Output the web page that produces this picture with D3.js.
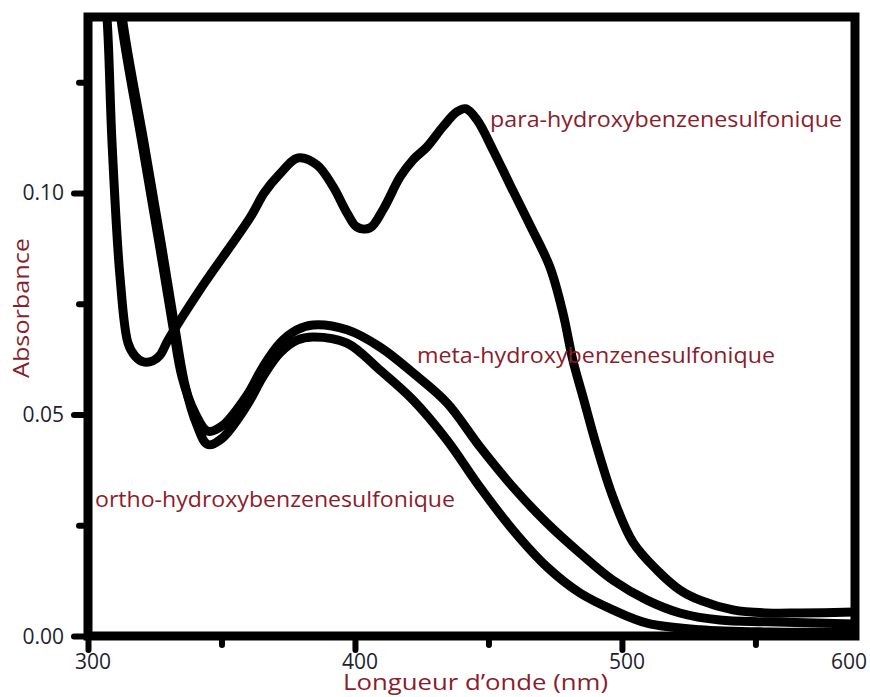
<!DOCTYPE html>
<html>
<head>
<meta charset="utf-8">
<script src="https://cdn.jsdelivr.net/npm/d3@7"></script>
<style>
  body { margin: 0; background: #fff; }
</style>
</head>
<body>
<div id="chart"></div>
<script>
// === Axis ticks and labels ===
const wavelengthTicks = [300, 350, 400, 450, 500, 550];
const wavelengthLabels = [300, 400, 500, 600];
const absorbanceTicks = [0, 0.025, 0.05, 0.075, 0.10, 0.125];
const absorbanceLabels = [0, 0.05, 0.10];

// === Spectra (wavelength in nm, absorbance) ===
const paraNm = [305, 307.1, 309, 312, 315, 317.6, 320.6, 324.3, 327, 330, 341.9, 360.7, 366, 371.6,
  378.7, 385.8, 391.8, 397, 400.7, 405.6, 410.5, 416.9, 421.8, 427, 432.9, 438.2, 441.5, 445.7, 451.7,
  458.1, 465.5, 473, 477.9, 481.6, 485.4, 490.6, 496.6, 504.1, 513.1, 521.7, 529.2, 541.6, 554.3,
  566.7, 587];
const paraAbs = [0.152, 0.1397, 0.1113, 0.081, 0.0661, 0.0632, 0.0619, 0.0621, 0.0634, 0.0668, 0.0781,
  0.0944, 0.1, 0.1041, 0.1079, 0.1063, 0.1014, 0.0955, 0.0923, 0.0921, 0.0962, 0.1036, 0.1075,
  0.1104, 0.1149, 0.1183, 0.119, 0.1165, 0.1097, 0.1018, 0.0928, 0.0833, 0.0729, 0.0623, 0.054,
  0.0427, 0.0314, 0.0212, 0.0149, 0.0104, 0.0081, 0.0059, 0.0052, 0.0052, 0.0054];

const metaNm = [310, 312.4, 320.2, 326.6, 331.8, 335.2, 340.1, 344.9, 350.2, 359.6, 365.5, 371.9,
  378.3, 384.3, 397, 409.4, 421.7, 434.5, 446.8, 459.2, 471.9, 484.3, 496.6, 509.4, 521.7, 536.7,
  554.3, 587];
const metaAbs = [0.155, 0.139, 0.1113, 0.0887, 0.0698, 0.0585, 0.0503, 0.0462, 0.0474, 0.0544, 0.0607,
  0.0661, 0.0691, 0.0702, 0.0691, 0.0652, 0.0594, 0.0526, 0.0427, 0.0336, 0.0255, 0.0187, 0.0126,
  0.0081, 0.0052, 0.0036, 0.0032, 0.0027];

const orthoNm = [310.5, 313, 321, 327.4, 332.5, 336.3, 340.8, 344.9, 350.2, 359.6, 365.5, 371.9,
  378.3, 384.3, 397, 409.4, 421.7, 434.5, 446.8, 459.2, 471.9, 484.3, 496.6, 509.4, 529.2, 555.4, 587];
const orthoAbs = [0.155, 0.139, 0.1113, 0.0887, 0.0698, 0.0567, 0.0476, 0.0432, 0.0446, 0.0521, 0.0585,
  0.0639, 0.0668, 0.0675, 0.0661, 0.06, 0.0533, 0.0442, 0.0336, 0.0239, 0.0156, 0.0097, 0.0059,
  0.0029, 0.0014, 0.0009, 0.0009];

const seriesNames = ["para-hydroxybenzenesulfonique", "meta-hydroxybenzenesulfonique", "ortho-hydroxybenzenesulfonique"];

const LABEL_RED = "#8b1c2b";
const TICK_INK = "#1e1e2e";
const INK = "#000";

function drawSpectra() {
    const svgWidth = 870, svgHeight = 697;
    const plot = { left: 88, top: 17, right: 855, bottom: 636 };

    const svg = d3.select("#chart")
        .append("svg")
        .attr("width", svgWidth)
        .attr("height", svgHeight)
        .style("font-family", "'Open Sans', 'DejaVu Sans', sans-serif");

    // Scales: frame right edge sits a bit before 600 nm
    const x = d3.scaleLinear().domain([300, 587.3]).range([plot.left, plot.right]);
    const y = d3.scaleLinear().domain([0, 0.1397]).range([plot.bottom, plot.top]);

    // Clip curves to the frame
    svg.append("clipPath").attr("id", "plot-clip")
        .append("rect")
        .attr("x", plot.left).attr("y", plot.top)
        .attr("width", plot.right - plot.left)
        .attr("height", plot.bottom - plot.top);

    const line = d3.line()
        .x(d => x(d[0]))
        .y(d => y(d[1]))
        .curve(d3.curveCatmullRom.alpha(0.5));

    const spectra = [
        d3.zip(paraNm, paraAbs),
        d3.zip(metaNm, metaAbs),
        d3.zip(orthoNm, orthoAbs)
    ];

    svg.append("g")
        .attr("clip-path", "url(#plot-clip)")
        .selectAll("path")
        .data(spectra)
        .join("path")
        .attr("fill", "none")
        .attr("stroke", INK)
        .attr("stroke-width", 9)
        .attr("stroke-linejoin", "round")
        .attr("d", line);

    // Tick marks (round dashes sticking out of the frame)
    const majorX = d => wavelengthLabels.includes(d);
    svg.append("g")
        .attr("transform", `translate(0,${plot.bottom})`)
        .call(d3.axisBottom(x).tickValues(wavelengthTicks).tickFormat("").tickSizeOuter(0))
        .call(g => g.select(".domain").remove())
        .call(g => g.selectAll(".tick line")
            .attr("y2", d => majorX(d) ? 14 : 9)
            .attr("stroke", INK)
            .attr("stroke-width", 6)
            .attr("stroke-linecap", "round"));

    const majorY = d => absorbanceLabels.some(v => Math.abs(v - d) < 1e-9);
    svg.append("g")
        .attr("transform", `translate(${plot.left},0)`)
        .call(d3.axisLeft(y).tickValues(absorbanceTicks).tickFormat("").tickSizeOuter(0))
        .call(g => g.select(".domain").remove())
        .call(g => g.selectAll(".tick line")
            .attr("x2", d => majorY(d) ? -14 : -9)
            .attr("stroke", INK)
            .attr("stroke-width", 6)
            .attr("stroke-linecap", "round"));

    // Frame
    svg.append("rect")
        .attr("x", plot.left).attr("y", plot.top)
        .attr("width", plot.right - plot.left)
        .attr("height", plot.bottom - plot.top)
        .attr("fill", "none")
        .attr("stroke", INK)
        .attr("stroke-width", 9);

    // X tick labels (600 falls past the frame, so it is pinned to the right edge)
    svg.append("g")
        .selectAll("text")
        .data(wavelengthLabels)
        .join("text")
        .attr("x", d => x(d) > svgWidth ? svgWidth - 3 : x(d) + 5)
        .attr("y", 669)
        .attr("text-anchor", d => x(d) > svgWidth ? "end" : "middle")
        .attr("font-size", 21)
        .attr("fill", TICK_INK)
        .text(d => d);

    // Y tick labels
    svg.append("g")
        .selectAll("text")
        .data(absorbanceLabels)
        .join("text")
        .attr("x", 64)
        .attr("y", d => y(d))
        .attr("dy", "0.36em")
        .attr("text-anchor", "end")
        .attr("font-size", 21)
        .attr("fill", TICK_INK)
        .text(d => d3.format(".2f")(d));

    // Axis titles
    svg.append("text")
        .attr("transform", "translate(29,308) rotate(-90)")
        .attr("text-anchor", "middle")
        .attr("font-size", 21)
        .attr("fill", LABEL_RED)
        .attr("textLength", 140)
        .attr("lengthAdjust", "spacingAndGlyphs")
        .text("Absorbance");

    svg.append("text")
        .attr("x", 343)
        .attr("y", 690)
        .attr("font-size", 22)
        .attr("fill", LABEL_RED)
        .attr("textLength", 265)
        .attr("lengthAdjust", "spacingAndGlyphs")
        .text("Longueur d\u2019onde  (nm)");

    // Curve labels
    const labelSpots = [
        { x: 490, y: 127, w: 352 },
        { x: 417, y: 363, w: 358 },
        { x: 95, y: 507, w: 360 }
    ];
    svg.append("g")
        .selectAll("text")
        .data(seriesNames)
        .join("text")
        .attr("x", (d, i) => labelSpots[i].x)
        .attr("y", (d, i) => labelSpots[i].y)
        .attr("font-size", 21)
        .attr("fill", LABEL_RED)
        .attr("textLength", (d, i) => labelSpots[i].w)
        .attr("lengthAdjust", "spacingAndGlyphs")
        .text(d => d);
}

drawSpectra();
</script>
</body>
</html>
